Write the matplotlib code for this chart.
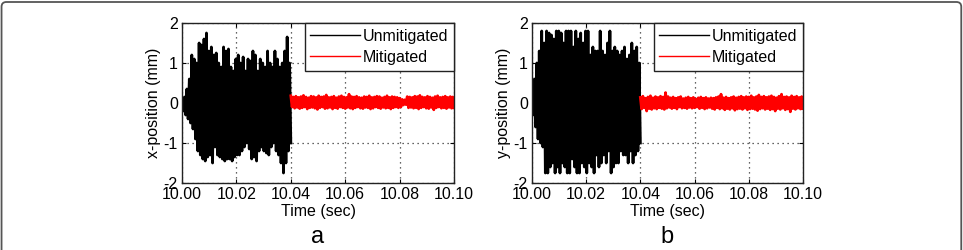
import numpy as np
import matplotlib.pyplot as plt
from matplotlib.patches import FancyBboxPatch

plt.rcParams['font.family'] = ['Liberation Sans', 'DejaVu Sans']
plt.rcParams['axes.unicode_minus'] = False

t_start, t_split, t_end = 10.00, 10.04, 10.10
xticks = [10.00, 10.02, 10.04, 10.06, 10.08, 10.10]
xtick_labels = ['10.00', '10.02', '10.04', '10.06', '10.08', '10.10']
yticks = [-2, -1, 0, 1, 2]
series_names = ['Unmitigated', 'Mitigated']
panel_labels = ['a', 'b']
ylabels = ['x-position (mm)', 'y-position (mm)']

# peak values of the oscillation (upper / lower swings)
unmit_x_hi = [0.0, 0.15, 0.35, 0.6, 1.2, 1.1, 1.0, 1.5, 1.45, 1.6,
              1.75, 1.3, 1.4, 1.2, 1.25, 1.0, 0.9, 1.4, 1.3, 1.35,
              0.9, 0.8, 1.1, 1.2, 1.0, 1.15, 0.8, 1.1, 1.05, 1.3,
              1.2, 0.8, 1.1, 1.0, 0.9, 1.3, 1.0, 0.9, 1.3, 1.1,
              0.9, 1.0, 1.3, 1.65, 1.0]
unmit_x_lo = [-0.2, -0.3, -0.4, -0.5, -0.65, -0.9, -1.2, -1.3, -1.4, -1.45,
              -1.35, -1.3, -1.5, -1.1, -1.3, -1.35, -1.4, -1.45, -1.4, -1.4,
              -1.45, -1.35, -1.3, -1.3, -1.2, -1.1, -1.0, -1.15, -1.4, -1.35,
              -1.45, -1.2, -1.1, -1.2, -1.25, -1.3, -1.1, -1.0, -1.2, -1.3,
              -1.5, -1.75, -1.5, -1.2, -1.0]
mit_x_hi = [0.18, 0.15, 0.17, 0.14, 0.16, 0.19, 0.15, 0.13, 0.17, 0.16,
            0.14, 0.18, 0.15, 0.16, 0.2, 0.14, 0.15, 0.17, 0.13, 0.16,
            0.18, 0.15, 0.14, 0.22, 0.16, 0.15, 0.17, 0.14, 0.13, 0.16,
            0.15, 0.18, 0.14, 0.15, 0.17, 0.16, 0.13, 0.15, 0.18, 0.14,
            0.16, 0.15, 0.14, 0.12, 0.09, 0.08, 0.16, 0.15, 0.14, 0.17,
            0.16, 0.19, 0.15, 0.14, 0.17, 0.15, 0.13, 0.16, 0.18, 0.14,
            0.15, 0.17, 0.14, 0.16, 0.15]
mit_x_lo = [-0.1, -0.13, -0.11, -0.14, -0.12, -0.1, -0.15, -0.12, -0.11, -0.13,
            -0.16, -0.12, -0.1, -0.14, -0.13, -0.11, -0.15, -0.12, -0.14, -0.1,
            -0.12, -0.14, -0.11, -0.13, -0.15, -0.12, -0.1, -0.13, -0.14, -0.11,
            -0.12, -0.15, -0.13, -0.1, -0.12, -0.14, -0.11, -0.13, -0.12, -0.15,
            -0.12, -0.1, -0.12, -0.1, -0.05, -0.04, -0.12, -0.11, -0.13, -0.12,
            -0.15, -0.12, -0.1, -0.13, -0.14, -0.11, -0.17, -0.12, -0.1, -0.13,
            -0.12, -0.14, -0.11, -0.13, -0.12]

unmit_y_hi = [0.2, 0.6, 1.0, 1.3, 1.8, 1.5, 1.8, 1.75, 1.7, 1.6,
              1.8, 1.8, 1.75, 1.5, 1.8, 1.8, 1.8, 1.4, 1.8, 1.6,
              1.75, 1.5, 1.8, 1.8, 1.2, 1.4, 1.3, 1.3, 1.8, 1.3,
              1.2, 1.5, 1.8, 1.3, 1.4, 1.3, 1.2, 1.3, 1.4, 1.1,
              1.2, 1.5, 1.3, 1.4, 1.0]
unmit_y_lo = [-0.3, -0.6, -0.9, -1.0, -1.1, -1.75, -1.75, -1.6, -1.5, -1.75,
              -1.6, -1.75, -1.5, -1.6, -1.75, -1.75, -1.4, -1.6, -1.75, -1.75,
              -1.5, -1.6, -1.75, -1.5, -1.6, -1.75, -1.3, -1.6, -1.5, -1.3,
              -1.5, -1.2, -1.75, -1.6, -1.5, -1.5, -1.2, -1.3, -1.3, -1.5,
              -1.2, -1.5, -1.3, -1.2, -1.0]
mit_y_hi = [0.14, 0.17, 0.12, 0.15, 0.18, 0.13, 0.16, 0.14, 0.17, 0.15,
            0.26, 0.16, 0.13, 0.15, 0.12, 0.14, 0.16, 0.11, 0.13, 0.15,
            0.12, 0.14, 0.1, 0.13, 0.15, 0.12, 0.14, 0.11, 0.13, 0.12,
            0.14, 0.16, 0.22, 0.13, 0.15, 0.12, 0.14, 0.16, 0.13, 0.15,
            0.17, 0.14, 0.16, 0.15, 0.18, 0.14, 0.16, 0.2, 0.15, 0.17,
            0.14, 0.16, 0.18, 0.15, 0.13, 0.17, 0.22, 0.15, 0.16, 0.14,
            0.18, 0.15, 0.17, 0.14, 0.16]
mit_y_lo = [-0.15, -0.12, -0.2, -0.14, -0.16, -0.13, -0.15, -0.12, -0.14, -0.16,
            -0.13, -0.11, -0.14, -0.12, -0.15, -0.1, -0.13, -0.12, -0.14, -0.11,
            -0.13, -0.12, -0.1, -0.14, -0.12, -0.15, -0.13, -0.11, -0.14, -0.16,
            -0.12, -0.15, -0.13, -0.17, -0.14, -0.16, -0.13, -0.18, -0.15, -0.14,
            -0.16, -0.13, -0.17, -0.15, -0.14, -0.16, -0.19, -0.15, -0.13, -0.16,
            -0.14, -0.17, -0.15, -0.2, -0.14, -0.16, -0.13, -0.17, -0.15, -0.22,
            -0.14, -0.16, -0.13, -0.15, -0.14]


def swing(hi, lo, t0, t1):
    # interleave the upper and lower peaks into one oscillating trace
    vals = np.column_stack([hi, lo]).ravel()
    t = np.linspace(t0, t1, len(vals))
    return t, vals


def draw_panel(ax, unmit, mit, ylabel, letter):
    ax.grid(True, color='#333333', linestyle=(0, (1, 3)), linewidth=0.9)
    ax.set_axisbelow(True)
    t, v = swing(unmit[0], unmit[1], t_start, t_split)
    ax.plot(t, v, color='black', lw=2.0, label=series_names[0])
    t, v = swing(mit[0], mit[1], t_split, t_end)
    ax.plot(t, v, color='#ff0000', lw=2.0, label=series_names[1])
    ax.set_xlim(t_start, t_end)
    ax.set_ylim(-2, 2)
    ax.set_xticks(xticks)
    ax.set_xticklabels(xtick_labels)
    ax.set_yticks(yticks)
    ax.tick_params(direction='in', length=3, top=True, right=True,
                   labelsize=11.5, pad=3)
    for s in ax.spines.values():
        s.set_linewidth(1.0)
        s.set_color('#222222')
    ax.set_xlabel('Time (sec)', fontsize=11.5, labelpad=1)
    ax.set_ylabel(ylabel, fontsize=11.5, labelpad=2)
    leg = ax.legend(loc='upper right', borderaxespad=0, fontsize=11.5,
                    handlelength=3.1, handletextpad=0.2, fancybox=False,
                    framealpha=1, edgecolor='#222222', borderpad=0.35,
                    labelspacing=0.4)
    for line in leg.get_lines():
        line.set_linewidth(1.0)
    leg.get_frame().set_linewidth(1.0)
    ax.text(0.5, -0.335, letter, transform=ax.transAxes, ha='center',
            va='center', fontsize=17)


fig = plt.figure(figsize=(9.63, 2.5), dpi=100)
ax1 = fig.add_axes([0.189, 0.268, 0.2825, 0.64])
ax2 = fig.add_axes([0.5524, 0.268, 0.2814, 0.64])
draw_panel(ax1, (unmit_x_hi, unmit_x_lo), (mit_x_hi, mit_x_lo), ylabels[0], panel_labels[0])
draw_panel(ax2, (unmit_y_hi, unmit_y_lo), (mit_y_hi, mit_y_lo), ylabels[1], panel_labels[1])

frame = FancyBboxPatch((0.0016, -0.2), 0.9966, 1.192, transform=fig.transFigure,
                       boxstyle='round,pad=0,rounding_size=0.005',
                       mutation_aspect=963 / 250, fill=False,
                       edgecolor='#555555', lw=1.3, clip_on=False)
fig.patches.append(frame)

fig.savefig('out.png', dpi=100)
